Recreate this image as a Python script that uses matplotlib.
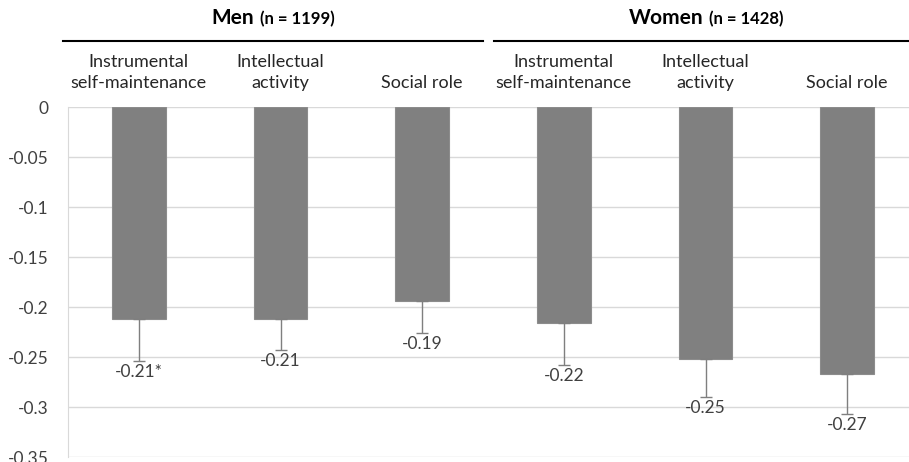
import matplotlib
matplotlib.use('Agg')
import matplotlib.pyplot as plt
from matplotlib.offsetbox import TextArea, HPacker, AnnotationBbox
import matplotlib.transforms as mtransforms

# mean change per domain, men first then women
categories = ['Instrumental\nself-maintenance', 'Intellectual\nactivity', 'Social role',
              'Instrumental\nself-maintenance', 'Intellectual\nactivity', 'Social role']
means = [-0.212, -0.212, -0.194, -0.216, -0.252, -0.267]
err_low = [0.042, 0.031, 0.032, 0.042, 0.038, 0.040]
marks = ['*', '', '', '', '', '']
groups = ['Men', 'Women']
group_n = ['(n = 1199)', '(n = 1428)']
yticks = [0, -0.05, -0.1, -0.15, -0.2, -0.25, -0.3, -0.35]

if __name__ == '__main__':
    plt.rcParams['font.family'] = ['Lato', 'DejaVu Sans']

    fig = plt.figure(figsize=(9.09, 4.62), dpi=100)
    ax = fig.add_axes([68 / 909, 5 / 462, 850 / 909, 350 / 462])

    x = list(range(len(means)))
    ax.bar(x, means, width=0.38, color='#808080', edgecolor='#8c8c8c', linewidth=0.8, zorder=3)
    ax.errorbar(x, means, yerr=[err_low, [0] * len(means)], fmt='none', ecolor='#7f7f7f',
                elinewidth=1, capsize=4, capthick=1, zorder=4)

    for xi, m, e, s in zip(x, means, err_low, marks):
        ax.text(xi, m - e - 0.003, '%.2f%s' % (m, s), ha='center', va='top',
                fontsize=12.5, color='#404040', zorder=5)

    ax.set_xlim(-0.5, len(means) - 0.5)
    ax.set_ylim(-0.35, 0)
    ax.set_yticks(yticks)
    ax.set_yticklabels(['0' if t == 0 else '%g' % t for t in yticks], fontsize=12.5, color='#404040')
    ax.tick_params(axis='y', length=0, pad=14)
    ax.set_xticks([])
    ax.yaxis.grid(True, color='#d9d9d9', linewidth=1)
    ax.set_axisbelow(True)
    for side in ['top', 'right', 'bottom']:
        ax.spines[side].set_visible(False)
    ax.spines['left'].set_color('#d9d9d9')

    trans = mtransforms.blended_transform_factory(ax.transData, ax.transAxes)

    # domain names above the bars
    for xi, c in zip(x, categories):
        ax.text(xi, 1.046, c, transform=trans, ha='center', va='bottom',
                fontsize=13, color='#262626', linespacing=1.4, clip_on=False)

    # group headers with underline
    spans = [(-0.535, 2.43), (2.51, 5.6)]
    for (x0, x1), g, n in zip(spans, groups, group_n):
        ax.plot([x0, x1], [1.19, 1.19], transform=trans, color='black', linewidth=1.5, clip_on=False)
        box = HPacker(children=[TextArea(g, textprops=dict(fontsize=15, fontweight='bold')),
                                TextArea(n, textprops=dict(fontsize=12, fontweight='bold'))],
                      align='baseline', pad=0, sep=4)
        ab = AnnotationBbox(box, ((x0 + min(x1, 5.5)) / 2, 1.225), xycoords=trans,
                            box_alignment=(0.5, 0), frameon=False, annotation_clip=False)
        ax.add_artist(ab)

    fig.savefig('out.png', dpi=100)
